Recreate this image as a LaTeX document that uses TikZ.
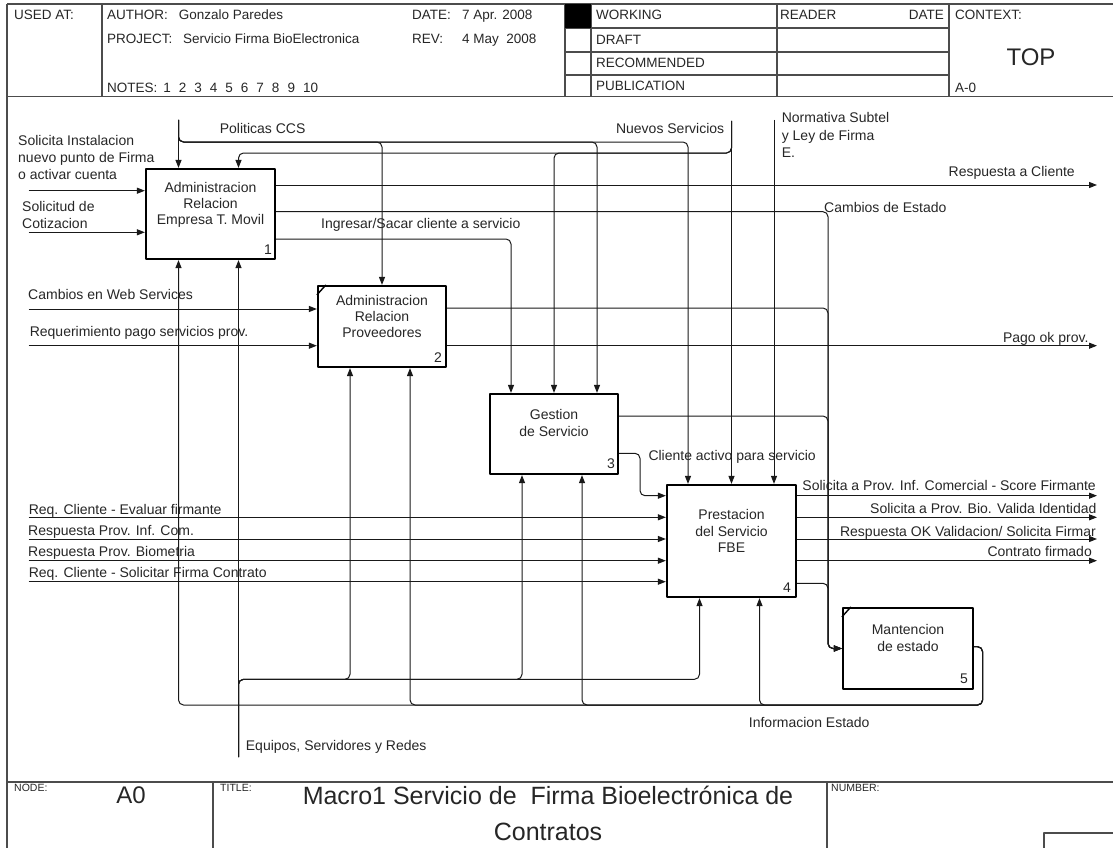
\documentclass[tikz,border=0pt]{standalone}
\usepackage{fontspec}
\setmainfont{Liberation Sans}
\usetikzlibrary{arrows.meta,calc}

\newcommand\mybody{\fontsize{14}{17.2}\selectfont}
\newcommand\mybox{\fontsize{14}{16.3}\selectfont}
\newcommand\myhead{\fontsize{13.5}{16}\selectfont}
\newcommand\mycorner{\fontsize{10.5}{12}\selectfont}

\tikzset{
  frameline/.style={line width=1.2pt, draw=black!70},
  proc/.style={draw=black, line width=2.2pt, inner sep=0pt},
  cornermark/.style={line width=1.4pt},
  flow/.style={line width=1pt, draw=black!90, rounded corners=5pt},
  arr/.style={flow, -{Triangle[length=8pt,width=6pt]}},
  lab/.style={font=\mybody, inner sep=0pt, text=black!85},
  mlab/.style={lab, align=left, anchor=north west},
  btext/.style={font=\mybox, inner sep=0pt, text=black!85, align=center, anchor=north},
  bnum/.style={font=\mybox, inner sep=0pt, text=black!85, anchor=base east},
  hd/.style={font=\myhead, inner sep=0pt, text=black!85, anchor=base west},
  sm/.style={font=\mycorner, inner sep=0pt, text=black!85, anchor=base west},
}

\begin{document}
\begin{tikzpicture}[x=1pt, y=-1pt, line join=round]
\useasboundingbox (0,0) rectangle (1113,848);

% ---------- sheet frame and header ----------
\draw[frameline] (7,4) -- (1113,4);
\draw[frameline] (7,4) -- (7,848);
\draw[frameline] (7,96.5) -- (1113,96.5);
\draw[frameline] (7,782) -- (1113,782);
\draw[frameline] (102,4) -- (102,96.5);
\foreach \xx in {565,591,777,949} \draw[frameline] (\xx,4) -- (\xx,96.5);
\foreach \yy in {28,52,75} \draw[frameline] (565,\yy) -- (949,\yy);
\fill[black] (565,4) rectangle (591,28);

\node[hd] (usedat) at (14,20) {USED AT:};
\node[hd] (author) at (107,20) {AUTHOR:};
\node[hd] (authorname) at (178.6,20) {Gonzalo Paredes};
\node[hd] (project) at (107,44) {PROJECT:};
\node[hd] (projname) at (183,44) {Servicio Firma BioElectronica};
\node[hd] (notes) at (107,93) {NOTES:\hspace{6pt}1\hspace{8pt}2\hspace{8pt}3\hspace{8pt}4\hspace{8pt}5\hspace{8pt}6\hspace{8pt}7\hspace{8pt}8\hspace{8pt}9\hspace{8pt}10};
\node[hd] (datel) at (412,20) {DATE:};
\node[hd] (datev) at (462,20) {7 Apr. 2008};
\node[hd] (revl) at (412,44) {REV:};
\node[hd] (revv) at (462,44) {4 May~ 2008};
\node[hd] (working) at (596,20) {WORKING};
\node[hd] (draft) at (596,45) {DRAFT};
\node[hd] (recommended) at (596,68) {RECOMMENDED};
\node[hd] (publication) at (596,91) {PUBLICATION};
\node[hd] (reader) at (780,20) {READER};
\node[hd, anchor=base east] (readerdate) at (944,20) {DATE};
\node[hd] (context) at (955,20) {CONTEXT:};
\node[font=\fontsize{24}{28}\selectfont, inner sep=0pt, text=black!85] (ctxtop) at (1031,57) {TOP};
\node[hd] (ctxnode) at (955,93) {A-0};

% ---------- title block ----------
\draw[frameline] (213,782) -- (213,848);
\draw[frameline] (827,782) -- (827,848);
\draw[frameline] (1044,848) |- (1113,833);
\node[sm] (nodelbl) at (14,791) {NODE:};
\node[font=\fontsize{24}{28}\selectfont, inner sep=0pt, text=black!85, anchor=base] (nodeval) at (131,803) {A0};
\node[sm] (titlelbl) at (220,791) {TITLE:};
\node[font=\fontsize{25}{36.5}\selectfont, inner sep=0pt, text=black!85, align=center, anchor=north] (title) at (548,778.5)
  {\strut Macro1 Servicio de~ Firma Bioelectrónica de\\Contratos};
\node[sm] (numlbl) at (831,791) {NUMBER:};

% ---------- activity boxes ----------
\node[proc, minimum width=129pt, minimum height=90pt] (b1) at (210.5,214) {};
\node[proc, minimum width=128pt, minimum height=81pt] (b2) at (382,326.5) {};
\node[proc, minimum width=128pt, minimum height=80pt] (b3) at (554,434) {};
\node[proc, minimum width=129pt, minimum height=112pt] (b4) at (731.5,541) {};
\node[proc, minimum width=130pt, minimum height=81pt] (b5) at (908,648.5) {};

\draw[cornermark] ($(b2.north west)+(0,10)$) -- ($(b2.north west)+(9,0)$);
\draw[cornermark] ($(b5.north west)+(0,10)$) -- ($(b5.north west)+(9,0)$);

\node[btext] (b1t) at ($(b1.north)+(0,12.6)$) {\strut Administracion\\Relacion\\Empresa T. Movil};
\node[btext] (b2t) at ($(b2.north)+(0,8.6)$) {\strut Administracion\\Relacion\\Proveedores};
\node[btext] (b3t) at ($(b3.north)+(0,15.3)$) {\strut Gestion\\de Servicio};
\node[btext] (b4t) at ($(b4.north)+(0,24.3)$) {\strut Prestacion\\del Servicio\\FBE};
\node[btext] (b5t) at ($(b5.north)+(0,16.3)$) {\strut Mantencion\\de estado};

\node[bnum] (b1n) at ($(b1.south east)+(-4,-6)$) {1};
\node[bnum] (b2n) at ($(b2.south east)+(-5,-5.5)$) {2};
\node[bnum] (b3n) at ($(b3.south east)+(-4,-6.3)$) {3};
\node[bnum] (b4n) at ($(b4.south east)+(-6,-5.5)$) {4};
\node[bnum] (b5n) at ($(b5.south east)+(-6,-7)$) {5};

% ---------- controls ----------
\coordinate (pol) at (178.5,120);
\coordinate (nue) at (731.5,121);
\coordinate (nor) at (774,120);
\draw[arr] (pol) -- ($(b1.north)+(-32,0)$);
\draw[arr] (pol) -- (178.5,142) -- (382,142) -- (b2.north);
\draw[arr] (pol) -- (178.5,142) -- (597,142) -- ($(b3.north)+(43,0)$);
\draw[arr] (pol) -- (178.5,142) -- (688,142) -- ($(b4.north)+(-43.5,0)$);
\draw[arr] (nue) -- (b4.north);
\draw[arr] (nue) -- (731.5,153) -- (554,153) -- (b3.north);
\draw[arr] (nue) -- (731.5,153) -- (238.5,153) -- ($(b1.north)+(28,0)$);
\draw[arr] (nor) -- ($(b4.north)+(42.5,0)$);

\node[lab, anchor=base west] (polt) at (219.6,133.3) {Politicas CCS};
\node[lab, anchor=base east] (nuet) at (724.4,133.3) {Nuevos Servicios};
\node[mlab] (nort) at (781.6,110.7) {\strut Normativa Subtel\\y Ley de Firma\\E.};

% ---------- inputs ----------
\coordinate (in1) at (28.6,190.7);
\coordinate (in2) at (28.6,232.3);
\coordinate (in3) at (28.6,309);
\coordinate (in4) at (28.6,345.7);
\coordinate (in5) at (28.6,517.3);
\coordinate (in6) at (28.6,539);
\coordinate (in7) at (28.6,560.7);
\coordinate (in8) at (28.6,581.7);
\draw[arr] (in1) -- (in1 -| b1.west);
\draw[arr] (in2) -- (in2 -| b1.west);
\draw[arr] (in3) -- (in3 -| b2.west);
\draw[arr] (in4) -- (in4 -| b2.west);
\draw[arr] (in5) -- (in5 -| b4.west);
\draw[arr] (in6) -- (in6 -| b4.west);
\draw[arr] (in7) -- (in7 -| b4.west);
\draw[arr] (in8) -- (in8 -| b4.west);

\node[mlab] (in1t) at (18,133) {\strut Solicita Instalacion\\nuevo punto de Firma\\o activar cuenta};
\node[mlab, font=\fontsize{14}{16.6}\selectfont] (in2t) at (22,200) {\strut Solicitud de\\Cotizacion};
\node[lab, anchor=base west] (in3t) at (28,299.3) {Cambios en Web Services};
\node[lab, anchor=base west] (in4t) at (29.6,336.7) {Requerimiento pago servicios prov.};
\node[lab, anchor=base west] (in5t) at (28.6,514.3) {Req. Cliente - Evaluar firmante};
\node[lab, anchor=base west] (in6t) at (28,535) {Respuesta Prov. Inf. Com.};
\node[lab, anchor=base west] (in7t) at (28,556.7) {Respuesta Prov. Biometria};
\node[lab, anchor=base west] (in8t) at (28.6,577.7) {Req. Cliente - Solicitar Firma Contrato};

% ---------- outputs ----------
\coordinate (out1) at (1097,185);
\coordinate (out2) at (1097,345.7);
\coordinate (out3) at (1097,495.7);
\coordinate (out4) at (1097,517.3);
\coordinate (out5) at (1097,539);
\coordinate (out6) at (1097,560.7);
\draw[arr] (out1 -| b1.east) -- (out1);
\draw[arr] (out2 -| b2.east) -- (out2);
\draw[arr] (out3 -| b4.east) -- (out3);
\draw[arr] (out4 -| b4.east) -- (out4);
\draw[arr] (out5 -| b4.east) -- (out5);
\draw[arr] (out6 -| b4.east) -- (out6);

\node[lab, anchor=base east] (out1t) at (1075,176.7) {Respuesta a Cliente};
\node[lab, anchor=base east] (out2t) at (1088.6,342.7) {Pago ok prov.};
\node[lab, anchor=base east] (out3t) at (1096,490.7) {Solicita a Prov. Inf. Comercial - Score Firmante};
\node[lab, anchor=base east] (out4t) at (1096.6,513.3) {Solicita a Prov. Bio. Valida Identidad};
\node[lab, anchor=base east] (out5t) at (1096,536) {Respuesta OK Validacion/ Solicita Firmar};
\node[lab, anchor=base east] (out6t) at (1092,556.7) {Contrato firmado};

% ---------- flows between activities ----------
\draw[arr] ($(b1.east)+(0,25)$) -- (511,239) -- ($(b3.north)+(-43,0)$);
\draw[arr] ($(b1.east)+(0,-2.3)$) -- (828,211.7) -- (828,648.5) -- (b5.west);
\draw[arr] ($(b2.east)+(0,-18.5)$) -- (828,308) -- (828,648.5) -- (b5.west);
\draw[arr] ($(b3.east)+(0,-18)$) -- (828,416) -- (828,648.5) -- (b5.west);
\draw[arr] ($(b4.east)+(0,42.3)$) -- (828,583.3) -- (828,648.5) -- (b5.west);
\draw[arr] ($(b3.east)+(0,19.3)$) -- (640,453.3) -- (640,495.7) -- ($(b4.west)+(0,-45.3)$);

\node[lab, anchor=base west] (ingt) at (321,228.3) {Ingresar/Sacar cliente a servicio};
\node[lab, anchor=base west] (camt) at (824,212.7) {Cambios de Estado};
\node[lab, anchor=base west] (clit) at (648.3,460) {Cliente activo para servicio};

% ---------- state feedback ----------
\draw[arr] ($(b5.east)+(0,-1.8)$) -- (982.6,646.7) -- (982.6,705) -- (178.5,705) -- ($(b1.south)+(-32,0)$);
\draw[arr] ($(b5.east)+(0,-1.8)$) -- (982.6,646.7) -- (982.6,705) -- (410,705) -- ($(b2.south)+(28,0)$);
\draw[arr] ($(b5.east)+(0,-1.8)$) -- (982.6,646.7) -- (982.6,705) -- (582,705) -- ($(b3.south)+(28,0)$);
\draw[arr] ($(b5.east)+(0,-1.8)$) -- (982.6,646.7) -- (982.6,705) -- (759.5,705) -- ($(b4.south)+(28,0)$);
\node[lab, anchor=base west] (infot) at (748.7,727.7) {Informacion Estado};

% ---------- mechanisms ----------
\coordinate (mech) at (238.5,757);
\draw[arr] (mech) -- ($(b1.south)+(28,0)$);
\draw[arr] (mech) -- (238.5,679.3) -- (350,679.3) -- ($(b2.south)+(-32,0)$);
\draw[arr] (mech) -- (238.5,679.3) -- (522,679.3) -- ($(b3.south)+(-32,0)$);
\draw[arr] (mech) -- (238.5,679.3) -- (699.5,679.3) -- ($(b4.south)+(-32,0)$);
\node[lab, anchor=base west] (mecht) at (245.7,750) {Equipos, Servidores y Redes};

\end{tikzpicture}
\end{document}
